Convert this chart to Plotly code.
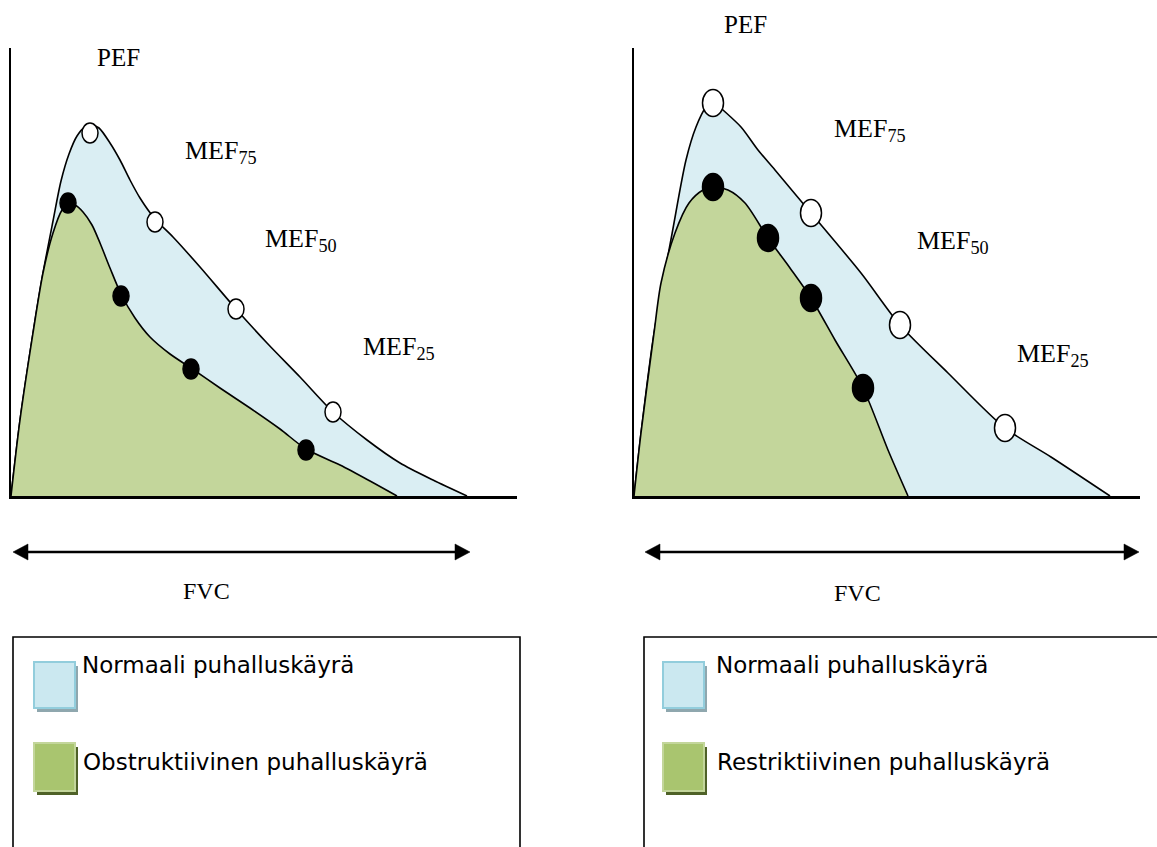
import plotly.graph_objects as go

W, H = 1157, 847

# ---------------- data (arbitrary volume / flow units) ----------------
# Left panel: normal vs obstructive flow-volume curve
left_normal_x = [0, 9, 22, 32, 42, 50, 58, 66, 74, 81, 88, 99, 109, 119, 129, 144, 162, 189, 225, 256, 289, 322, 356, 389, 422, 456]
left_normal_y = [0, 76, 163, 223, 275, 315, 342, 360, 369, 371, 368, 353, 336, 316, 298, 277, 259, 229, 187, 153, 119, 84, 56, 33, 16, 0]
left_obs_x = [0, 9, 22, 32, 42, 51, 57, 64, 72, 81, 89, 99, 110, 124, 139, 159, 180, 209, 239, 269, 295, 329, 359, 386]
left_obs_y = [0, 76, 163, 223, 263, 286, 292, 291, 284, 271, 253, 228, 202, 178, 159, 142, 128, 108, 88, 67, 47, 31, 15, 0]
left_normal_pts_x = [79, 144, 225, 322]
left_normal_pts_y = [363, 274, 187, 84]
left_obs_pts_x = [57, 110, 180, 295]
left_obs_pts_y = [293, 200, 127, 46]

# Right panel: normal vs restrictive flow-volume curve
right_normal_x = [0, 7, 20, 38, 52, 62, 72, 79, 89, 107, 124, 141, 177, 227, 266, 314, 371, 417, 476]
right_normal_y = [0, 63, 163, 262, 336, 369, 389, 395, 386, 369, 346, 326, 283, 223, 171, 123, 68, 39, 0]
right_restr_x = [0, 7, 20, 27, 41, 55, 69, 79, 94, 111, 134, 156, 177, 201, 229, 254, 274]
right_restr_y = [0, 63, 163, 213, 263, 293, 306, 309, 306, 293, 258, 228, 198, 156, 108, 46, 0]
right_normal_pts_x = [79, 177, 266, 371]
right_normal_pts_y = [393, 283, 171, 68]
right_restr_pts_x = [79, 134, 177, 229]
right_restr_pts_y = [309, 258, 198, 108]

peak_label = "PEF"
mef_labels = ["MEF<sub>75</sub>", "MEF<sub>50</sub>", "MEF<sub>25</sub>"]
axis_label = "FVC"
legend_left = ["Normaali puhalluskäyrä", "Obstruktiivinen puhalluskäyrä"]
legend_right = ["Normaali puhalluskäyrä", "Restriktiivinen puhalluskäyrä"]

BLUE = "#DAEEF3"
GREEN = "#C3D69B"
SERIF = "Liberation Serif, Times New Roman, serif"
SANS = "DejaVu Sans, Verdana, sans-serif"


def px(x):
    return x / W


def py(y):
    return 1 - y / H


fig = go.Figure()

panels = [
    ("x", "y", left_normal_x, left_normal_y, left_obs_x, left_obs_y),
    ("x2", "y2", right_normal_x, right_normal_y, right_restr_x, right_restr_y),
]
for xa, ya, nx, ny, ox, oy in panels:
    fig.add_trace(go.Scatter(x=nx, y=ny, xaxis=xa, yaxis=ya, mode="lines",
                             line=dict(shape="spline", smoothing=0.8, color="black", width=1.6),
                             fill="tozeroy", fillcolor=BLUE, showlegend=False, hoverinfo="skip"))
    fig.add_trace(go.Scatter(x=ox, y=oy, xaxis=xa, yaxis=ya, mode="lines",
                             line=dict(shape="spline", smoothing=0.8, color="black", width=1.6),
                             fill="tozeroy", fillcolor=GREEN, showlegend=False, hoverinfo="skip"))

shapes = []


def ellipses(xs, ys, xref, yref, filled, hw, hh):
    for x, y in zip(xs, ys):
        shapes.append(dict(type="circle", xref=xref, yref=yref,
                           xsizemode="pixel", ysizemode="pixel",
                           xanchor=x, yanchor=y, x0=-hw, x1=hw, y0=-hh, y1=hh,
                           fillcolor="black" if filled else "white",
                           line=dict(color="black", width=1.5), layer="above"))


ellipses(left_normal_pts_x, left_normal_pts_y, "x", "y", False, 8, 10)
ellipses(left_obs_pts_x, left_obs_pts_y, "x", "y", True, 8, 10)
ellipses(right_normal_pts_x, right_normal_pts_y, "x2", "y2", False, 10.5, 13.5)
ellipses(right_restr_pts_x, right_restr_pts_y, "x2", "y2", True, 10.5, 13.5)


# double-headed FVC arrows
def arrow(xl, xr, yc):
    shapes.append(dict(type="line", xref="paper", yref="paper",
                       x0=px(xl + 10), x1=px(xr - 10), y0=py(yc), y1=py(yc),
                       line=dict(color="black", width=2.5)))
    for tip, base in ((xl, xl + 15), (xr, xr - 15)):
        path = "M {} {} L {} {} L {} {} Z".format(px(tip), py(yc), px(base), py(yc - 8),
                                                  px(base), py(yc + 8))
        shapes.append(dict(type="path", xref="paper", yref="paper", path=path,
                           fillcolor="black", line=dict(color="black", width=0.5)))


arrow(13, 470, 552)
arrow(645, 1139, 552)


# legend boxes
def rect(x0, y0, x1, y1, fill, line_color=None, lw=0):
    shapes.append(dict(type="rect", xref="paper", yref="paper",
                       x0=px(x0), x1=px(x1), y0=py(y1), y1=py(y0),
                       fillcolor=fill,
                       line=dict(color=line_color or fill, width=lw)))


rect(13, 637, 520, 905, "rgba(0,0,0,0)", "black", 1.6)
rect(644, 637, 1175, 905, "rgba(0,0,0,0)", "black", 1.6)
for sx in (34, 663):
    rect(sx + 3, 666, sx + 44, 712, "#8FA7AE")
    rect(sx, 662, sx + 41, 708, "#CBE8F0", "#92CDDC", 2)
    rect(sx + 3, 747, sx + 44, 795, "#4F6228")
    rect(sx, 743, sx + 41, 791, "#A9C56F", "#C3D69B", 2)

fig.update_layout(shapes=shapes)

annotations = []


def text(t, x, y, size, family, anchor="left"):
    annotations.append(dict(text=t, x=px(x), y=py(y), xref="paper", yref="paper",
                            xanchor=anchor, yanchor="middle", showarrow=False,
                            font=dict(family=family, size=size, color="black")))


text(peak_label, 95, 58, 25, SERIF)
text(mef_labels[0], 183, 152, 26, SERIF)
text(mef_labels[1], 263, 240, 26, SERIF)
text(mef_labels[2], 361, 348, 26, SERIF)
text(peak_label, 722, 25, 25, SERIF)
text(mef_labels[0], 832, 130, 26, SERIF)
text(mef_labels[1], 915, 242, 26, SERIF)
text(mef_labels[2], 1015, 355, 26, SERIF)
text(axis_label, 206, 591, 24, SERIF, "center")
text(axis_label, 857, 593, 24, SERIF, "center")
text(legend_left[0], 80, 665, 23, SANS)
text(legend_left[1], 81, 762, 23, SANS)
text(legend_right[0], 714, 665, 23, SANS)
text(legend_right[1], 715, 762, 23, SANS)

fig.update_layout(annotations=annotations)

ax_common = dict(showgrid=False, zeroline=False, showticklabels=False, ticks="",
                 showline=True, linecolor="black", fixedrange=True)
fig.update_layout(
    width=W, height=H,
    margin=dict(l=0, r=0, t=0, b=0),
    paper_bgcolor="white", plot_bgcolor="white",
    showlegend=False,
    xaxis=dict(domain=[px(11), px(517)], range=[0, 506], linewidth=2.5, anchor="y", **ax_common),
    yaxis=dict(domain=[py(496), py(48)], range=[0, 448], linewidth=1.5, anchor="x", **ax_common),
    xaxis2=dict(domain=[px(634), px(1140)], range=[0, 506], linewidth=2.5, anchor="y2", **ax_common),
    yaxis2=dict(domain=[py(496), py(48)], range=[0, 448], linewidth=1.5, anchor="x2", **ax_common),
)

fig.write_html("out.html", config={"displayModeBar": False},
               post_script="document.body.style.margin='0';document.body.style.overflow='hidden';")
